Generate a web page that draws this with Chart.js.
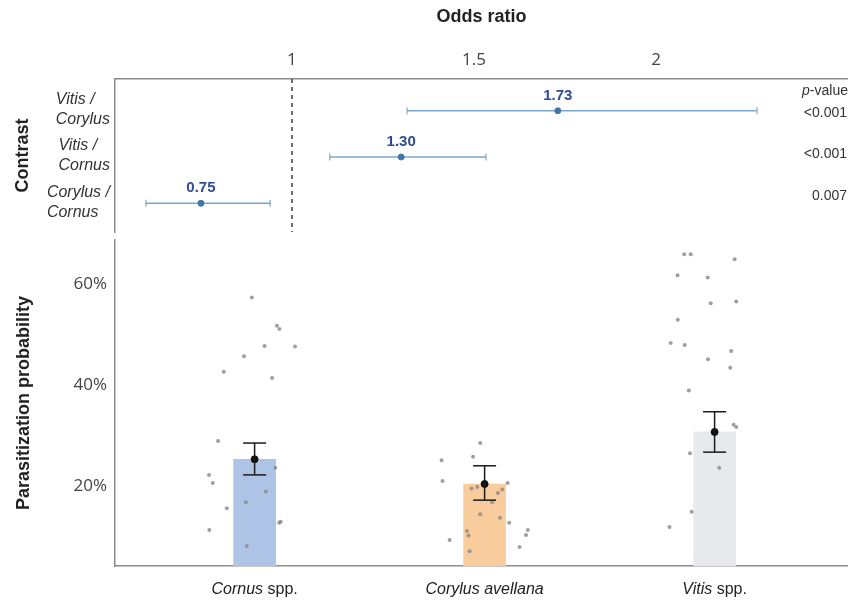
<!DOCTYPE html>
<html>
<head>
<meta charset="utf-8">
<script src="https://cdn.jsdelivr.net/npm/chart.js@4/dist/chart.umd.min.js"></script>
<style>
  html, body { margin: 0; padding: 0; background: #fff; }
  #wrap { position: relative; width: 848px; height: 602px; }
  #top { position: absolute; left: 0; top: 0; }
  #bottom { position: absolute; left: 0; top: 236px; }
</style>
</head>
<body>
<div id="wrap">
  <canvas id="top" width="848" height="236"></canvas>
  <canvas id="bottom" width="848" height="366"></canvas>
</div>
<script>
// top panel: odds ratios per contrast
const contrasts = ['Vitis / Corylus', 'Vitis / Cornus', 'Corylus / Cornus'];
const oddsRatio = [1.73, 1.30, 0.75];
const ciLow = [1.316, 1.104, 0.599];
const ciHigh = [2.277, 1.533, 0.940];
const pValues = ['<0.001', '<0.001', '0.007'];
const oddsTicks = [1, 1.5, 2];

// bottom panel: parasitization probability per host plant
const categories = ['Cornus spp.', 'Corylus avellana', 'Vitis spp.'];
const meanProb = [25.3, 20.4, 30.7];
const seLow = [22.2, 17.2, 26.7];
const seHigh = [28.5, 24.0, 34.7];
const probTicks = [20, 40, 60];

const cornusJitter = [-0.012, 0.097, 0.108, 0.043, 0.176, -0.046, -0.134, 0.076, -0.159, 0.09, -0.198, -0.182, 0.049, -0.038, -0.121, 0.107, 0.113, -0.197, -0.034];
const cornusObs = [57.3, 51.7, 51.1, 47.7, 47.6, 45.7, 42.6, 41.4, 28.9, 23.6, 22.2, 20.6, 18.9, 16.8, 15.6, 12.7, 12.9, 11.3, 8.1];
const corylusJitter = [-0.019, -0.05, -0.187, -0.183, 0.1, -0.057, -0.032, 0.077, 0.058, 0.033, -0.019, 0.067, 0.107, 0.188, -0.077, 0.18, -0.07, -0.152, 0.152, -0.065];
const corylusObs = [28.5, 25.8, 25.1, 21.0, 20.6, 19.5, 19.8, 19.3, 18.6, 16.8, 14.4, 13.7, 12.7, 11.3, 11.1, 10.3, 10.2, 9.3, 7.9, 7.1];
const vitisJitter = [-0.132, -0.104, 0.087, -0.161, -0.03, -0.017, 0.094, -0.16, -0.191, -0.13, 0.072, -0.029, 0.068, -0.112, 0.083, 0.094, -0.107, 0.02, -0.1, -0.196];
const vitisObs = [65.9, 65.9, 64.9, 61.7, 61.3, 56.2, 56.5, 52.9, 48.3, 47.9, 46.7, 45.1, 43.4, 38.9, 32.1, 31.7, 26.5, 23.6, 14.9, 11.9];

const barColors = ['#aec4e6', '#f9cc9d', '#e8e9ed'];

const SANS = '"Liberation Sans", Arial, sans-serif';
const TICK = '"Open Sans", sans-serif';
const axisGrey = '#8c8c8c';

const oddsMin = 0.514, oddsMax = 2.527;
const rowMin = -0.685, rowMax = 2.62;

Chart.defaults.animation = false;
Chart.defaults.plugins.legend.display = false;
Chart.defaults.plugins.tooltip.enabled = false;

// keep each axis box at a fixed size, no extra label padding
function fixBox(size) {
    return function (s) {
        if (s.isHorizontal()) s.height = size; else s.width = size;
        s.paddingTop = 0;
        s.paddingBottom = 0;
        s.paddingLeft = 0;
        s.paddingRight = 0;
    };
}

// contrast names (left aligned blocks), value labels, p-value column
const oddsLabels = {
    id: 'oddsLabels',
    afterDraw(chart) {
        const ctx = chart.ctx;
        const yScale = chart.scales.y;
        ctx.save();

        ctx.font = 'italic 16px ' + SANS;
        ctx.fillStyle = '#333';
        ctx.textAlign = 'left';
        ctx.textBaseline = 'middle';
        contrasts.forEach(function (c, i) {
            const lines = c.replace(' / ', ' /\n').split('\n');
            const w = Math.max.apply(null, lines.map(function (l) { return ctx.measureText(l).width; }));
            const y = yScale.getPixelForValue(i);
            ctx.fillText(lines[0], yScale.right - 5 - w, y - 11);
            ctx.fillText(lines[1], yScale.right - 5 - w, y + 9);
        });

        const meta = chart.getDatasetMeta(0);
        ctx.font = 'bold 15px ' + SANS;
        ctx.fillStyle = '#2e4b93';
        ctx.textAlign = 'center';
        meta.data.forEach(function (pt, i) {
            ctx.fillText(oddsRatio[i].toFixed(2), pt.x, pt.y - 15);
        });

        const right = chart.chartArea.right;
        ctx.fillStyle = '#333';
        ctx.textAlign = 'right';
        ctx.font = '14px ' + SANS;
        pValues.forEach(function (p, i) {
            ctx.fillText(p, right - 1, yScale.getPixelForValue(i) + 2 - 4.5 * i);
        });
        const w = ctx.measureText('-value').width;
        ctx.fillText('-value', right, 91);
        ctx.font = 'italic 14px ' + SANS;
        ctx.fillText('p', right - w, 91);
        ctx.restore();
    }
};

new Chart(document.getElementById('top'), {
    type: 'scatter',
    data: {
        datasets: [
            {
                type: 'scatter',
                data: oddsRatio.map(function (v, i) { return {x: v, y: i}; }),
                pointRadius: 3,
                backgroundColor: '#3f77a8',
                borderColor: '#3f77a8',
                order: 0
            },
            ...contrasts.map(function (c, i) {
                return {
                    type: 'line',
                    data: [{x: ciLow[i], y: i}, {x: ciHigh[i], y: i}],
                    borderColor: '#7aa7cd',
                    borderWidth: 1.5,
                    pointStyle: 'line',
                    rotation: 90,
                    pointRadius: 3.5,
                    pointBorderColor: '#8aa6bf',
                    pointBorderWidth: 1.2,
                    order: 1
                };
            }),
            {
                type: 'line',
                data: [{x: 1, y: rowMin}, {x: 1, y: rowMax}],
                borderColor: '#222',
                borderWidth: 1.3,
                borderDash: [4, 4],
                pointRadius: 0,
                order: 2
            }
        ]
    },
    options: {
        responsive: false,
        layout: {autoPadding: false, padding: {bottom: 4, right: 0, left: 0, top: 0}},
        scales: {
            x: {
                type: 'linear',
                position: 'top',
                min: oddsMin,
                max: oddsMax,
                afterBuildTicks: function (s) { s.ticks = oddsTicks.map(function (v) { return {value: v}; }); },
                afterFit: fixBox(79),
                ticks: {
                    callback: function (v) { return String(v); },
                    font: {family: TICK, size: 17},
                    color: '#444',
                    padding: 9,
                    maxRotation: 0
                },
                grid: {display: false, drawTicks: false},
                border: {color: axisGrey, width: 1.5},
                title: {
                    display: true,
                    text: 'Odds ratio',
                    font: {family: SANS, size: 18, weight: 'bold'},
                    color: '#222',
                    padding: {top: 6, bottom: 0}
                }
            },
            y: {
                type: 'linear',
                reverse: true,
                min: rowMin,
                max: rowMax,
                afterBuildTicks: function (s) { s.ticks = contrasts.map(function (c, i) { return {value: i}; }); },
                afterFit: fixBox(115),
                ticks: {display: false},
                grid: {display: false, drawTicks: false},
                border: {color: axisGrey, width: 1.5},
                title: {
                    display: true,
                    text: 'Contrast',
                    font: {family: SANS, size: 18, weight: 'bold'},
                    color: '#222',
                    padding: {top: 12, bottom: 0}
                }
            }
        }
    },
    plugins: [oddsLabels]
});

// host plant names, genus in italics
const categoryLabels = {
    id: 'categoryLabels',
    afterDraw(chart) {
        const ctx = chart.ctx;
        const x = chart.scales.x;
        ctx.save();
        ctx.fillStyle = '#222';
        ctx.textBaseline = 'middle';
        ctx.textAlign = 'left';
        categories.forEach(function (name, i) {
            const italic = name.replace(' spp.', '');
            const rest = name.slice(italic.length);
            ctx.font = 'italic 16px ' + SANS;
            const w1 = ctx.measureText(italic).width;
            ctx.font = '16px ' + SANS;
            const w2 = ctx.measureText(rest).width;
            const left = x.getPixelForValue(i) - (w1 + w2) / 2;
            const y = x.top + 24;
            ctx.font = 'italic 16px ' + SANS;
            ctx.fillText(italic, left, y);
            ctx.font = '16px ' + SANS;
            ctx.fillText(rest, left + w1, y);
        });
        ctx.restore();
    }
};

function jitterPoints(idx, jitter, obs) {
    return obs.map(function (v, k) { return {x: idx + jitter[k], y: v}; });
}

const observations = [].concat(
    jitterPoints(0, cornusJitter, cornusObs),
    jitterPoints(1, corylusJitter, corylusObs),
    jitterPoints(2, vitisJitter, vitisObs)
);

new Chart(document.getElementById('bottom'), {
    type: 'bar',
    data: {
        datasets: [
            ...categories.map(function (c, i) {
                return {
                    type: 'line',
                    data: [{x: i, y: seLow[i]}, {x: i, y: seHigh[i]}],
                    borderColor: '#1a1a1a',
                    borderWidth: 1.5,
                    pointStyle: 'line',
                    rotation: 0,
                    pointRadius: 11.5,
                    pointBorderColor: '#1a1a1a',
                    pointBorderWidth: 1.5,
                    order: 0
                };
            }),
            {
                type: 'scatter',
                data: meanProb.map(function (v, i) { return {x: i, y: v}; }),
                pointRadius: 3.5,
                backgroundColor: '#111',
                borderColor: '#111',
                order: 1
            },
            {
                type: 'scatter',
                data: observations,
                pointRadius: 2,
                borderWidth: 0,
                backgroundColor: 'rgba(135,135,135,0.8)',
                order: 2
            },
            {
                type: 'bar',
                data: meanProb.map(function (v, i) { return {x: i, y: v}; }),
                backgroundColor: barColors,
                barThickness: 42,
                order: 3
            }
        ]
    },
    options: {
        responsive: false,
        layout: {autoPadding: false, padding: {top: 4, right: 0, left: 0, bottom: 0}},
        scales: {
            x: {
                type: 'linear',
                offset: false,
                min: -0.607,
                max: 2.58,
                afterBuildTicks: function (s) { s.ticks = categories.map(function (c, i) { return {value: i}; }); },
                afterFit: fixBox(36),
                ticks: {display: false},
                grid: {display: false, drawTicks: false},
                border: {color: axisGrey, width: 1.5}
            },
            y: {
                min: 4.16,
                max: 68.7,
                afterBuildTicks: function (s) { s.ticks = probTicks.map(function (v) { return {value: v}; }); },
                afterFit: fixBox(115),
                ticks: {
                    callback: function (v) { return v + '%'; },
                    font: {family: TICK, size: 17},
                    color: '#444',
                    padding: 8
                },
                grid: {display: false, drawTicks: false},
                border: {color: axisGrey, width: 1.5},
                title: {
                    display: true,
                    text: 'Parasitization probability',
                    font: {family: SANS, size: 18, weight: 'bold'},
                    color: '#222',
                    padding: {top: 13, bottom: 0}
                }
            }
        }
    },
    plugins: [categoryLabels]
});
</script>
</body>
</html>
